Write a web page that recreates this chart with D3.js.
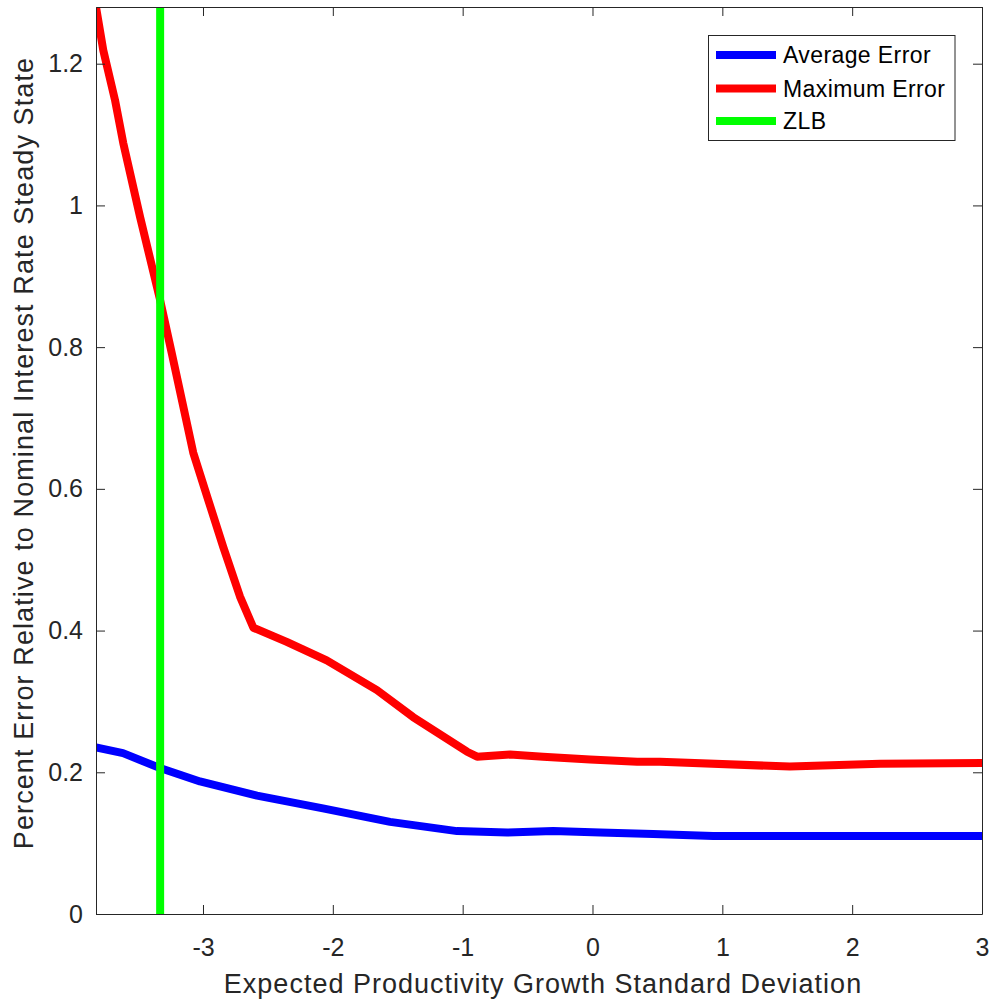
<!DOCTYPE html>
<html>
<head>
<meta charset="utf-8">
<script src="https://cdn.jsdelivr.net/npm/d3@7"></script>
<style>
  html, body { margin: 0; padding: 0; background: #fff; }
  svg { display: block; font-family: "Liberation Sans", Arial, Helvetica, sans-serif; }
</style>
</head>
<body>
<svg id="chart" width="991" height="1002"></svg>
<script>
// ---- data ----
const avgX = [-3.824, -3.616, -3.331, -3.023, -2.584, -2.076, -1.559, -1.043, -0.658, -0.303, 0.059, 0.467, 0.929, 1.6, 3.0];
const avgY = [0.235, 0.227, 0.206, 0.187, 0.167, 0.149, 0.130, 0.117, 0.115, 0.117, 0.115, 0.113, 0.110, 0.110, 0.110];

const maxX = [-3.824, -3.768, -3.678, -3.614, -3.485, -3.331, -3.241, -3.075, -2.959, -2.844, -2.715, -2.612, -2.355, -2.047, -1.66, -1.382, -0.966, -0.889, -0.635, -0.381, -0.019, 0.344, 0.52, 1.52, 2.216, 3.0];
const maxY = [1.28, 1.219, 1.149, 1.088, 0.984, 0.867, 0.792, 0.651, 0.584, 0.518, 0.448, 0.404, 0.384, 0.358, 0.316, 0.278, 0.229, 0.222, 0.225, 0.222, 0.218, 0.215, 0.215, 0.208, 0.212, 0.213];

const zlbX = -3.33;

const xTicks = [-3, -2, -1, 0, 1, 2, 3];
const yTicks = [0, 0.2, 0.4, 0.6, 0.8, 1, 1.2];
const xDomain = [-3.824, 3.0];
const yDomain = [0, 1.28];

const legendLabels = ["Average Error", "Maximum Error", "ZLB"];
const seriesColors = ["#0000ff", "#ff0000", "#00ff00"];
const xLabel = "Expected Productivity Growth Standard Deviation";
const yLabel = "Percent Error Relative to Nominal Interest Rate Steady State";

// ---- layout ----
const svg = d3.select("#chart");
const M = { left: 96, right: 982, top: 7, bottom: 914 };
const axisColor = "#262626";
const lineW = 8;

const x = d3.scaleLinear().domain(xDomain).range([M.left, M.right]);
const y = d3.scaleLinear().domain(yDomain).range([M.bottom, M.top]);

svg.append("defs").append("clipPath").attr("id", "plotclip")
  .append("rect").attr("x", M.left).attr("y", M.top)
  .attr("width", M.right - M.left).attr("height", M.bottom - M.top);

const plot = svg.append("g").attr("clip-path", "url(#plotclip)");

const line = d3.line().x(d => x(d[0])).y(d => y(d[1]));
const avgData = avgX.map((v, i) => [v, avgY[i]]);
const maxData = maxX.map((v, i) => [v, maxY[i]]);

plot.append("path").datum(avgData).attr("d", line)
  .attr("fill", "none").attr("stroke", seriesColors[0]).attr("stroke-width", lineW)
  .attr("stroke-linejoin", "round");
plot.append("path").datum(maxData).attr("d", line)
  .attr("fill", "none").attr("stroke", seriesColors[1]).attr("stroke-width", lineW)
  .attr("stroke-linejoin", "round");
plot.append("line")
  .attr("x1", x(zlbX)).attr("x2", x(zlbX))
  .attr("y1", y(yDomain[0])).attr("y2", y(yDomain[1]))
  .attr("stroke", seriesColors[2]).attr("stroke-width", lineW);

// ---- axes (box with inward ticks on all four sides) ----
const tickLen = 9;
const fontTick = 25;

const xAxisB = d3.axisBottom(x).tickValues(xTicks).tickSizeInner(-tickLen).tickSizeOuter(0).tickPadding(24)
  .tickFormat(d => String(d));
const xAxisT = d3.axisTop(x).tickValues(xTicks).tickSizeInner(-tickLen).tickSizeOuter(0).tickFormat("");
const yAxisL = d3.axisLeft(y).tickValues(yTicks).tickSizeInner(-tickLen).tickSizeOuter(0).tickPadding(13)
  .tickFormat(d => String(d));
const yAxisR = d3.axisRight(y).tickValues(yTicks).tickSizeInner(-tickLen).tickSizeOuter(0).tickFormat("");

function style(g) {
  g.select(".domain").attr("stroke", axisColor).attr("stroke-width", 1);
  g.selectAll(".tick line").attr("stroke", axisColor).attr("stroke-width", 1);
  g.selectAll(".tick text").attr("fill", axisColor)
    .style("font-size", fontTick + "px")
    .style("font-family", '"Liberation Sans", Arial, Helvetica, sans-serif');
}

svg.append("g").attr("transform", `translate(0,${M.bottom})`).call(xAxisB).call(style);
svg.append("g").attr("transform", `translate(0,${M.top})`).call(xAxisT).call(style);
svg.append("g").attr("transform", `translate(${M.left},0)`).call(yAxisL).call(style);
svg.append("g").attr("transform", `translate(${M.right},0)`).call(yAxisR).call(style);

// ---- axis labels ----
svg.append("text")
  .attr("x", 543).attr("y", 993)
  .attr("text-anchor", "middle").attr("fill", axisColor)
  .style("font-size", "27px").style("letter-spacing", "1px")
  .text(xLabel);

svg.append("text")
  .attr("transform", `translate(33,453) rotate(-90)`)
  .attr("text-anchor", "middle").attr("fill", axisColor)
  .style("font-size", "27px").style("letter-spacing", "1.1px")
  .text(yLabel);

// ---- legend ----
const lg = svg.append("g");
lg.append("rect").attr("x", 708.5).attr("y", 35.5).attr("width", 246.5).attr("height", 105)
  .attr("fill", "#fff").attr("stroke", axisColor).attr("stroke-width", 1);
const rowY = [55, 88.5, 121];
legendLabels.forEach((lab, i) => {
  lg.append("line").attr("x1", 716).attr("x2", 776).attr("y1", rowY[i]).attr("y2", rowY[i])
    .attr("stroke", seriesColors[i]).attr("stroke-width", lineW);
  lg.append("text").attr("x", 783).attr("y", rowY[i]).attr("dy", "0.35em")
    .attr("fill", "#000").style("font-size", "23px").style("letter-spacing", "0.4px").text(lab);
});
</script>
</body>
</html>
